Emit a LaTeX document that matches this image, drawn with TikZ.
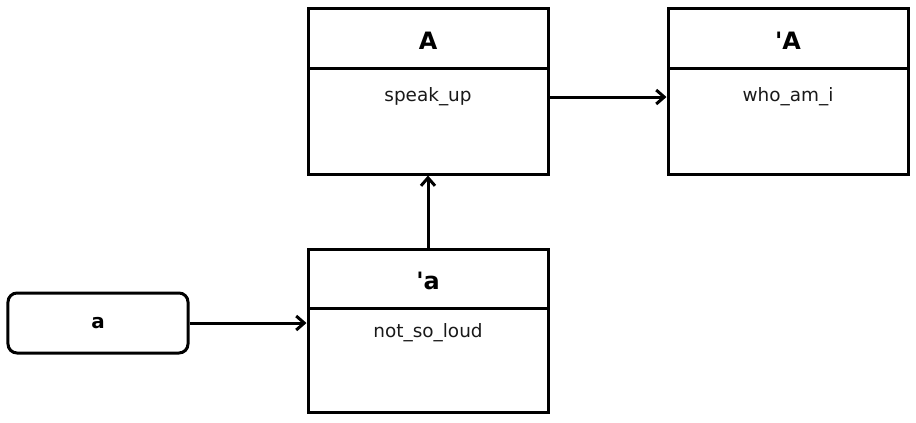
\documentclass[tikz,border=0pt]{standalone}
\usepackage{fontspec}
\setmainfont{DejaVu Sans}[Ligatures=TeXOff]
\usetikzlibrary{arrows.meta}
\begin{document}
\begin{tikzpicture}[x=1bp,y=-1bp,
  cls/.style={draw=black,line width=3bp,minimum width=240bp,inner sep=0pt,fill=white},
  ttl/.style={font=\fontsize{24}{28}\selectfont\bfseries,inner sep=0pt},
  body/.style={font=\fontsize{18.5}{22}\selectfont,inner sep=0pt,text=black!90},
  obj/.style={draw=black,line width=3bp,rounded corners=9bp,minimum width=180bp,minimum height=60bp,inner sep=0pt,font=\fontsize{20}{24}\selectfont\bfseries},
  conn/.style={line width=3bp,-{Straight Barb[length=8bp,width=14bp]}}
]
\useasboundingbox (0,0) rectangle (916,422);
% class A
\node[cls,minimum height=166bp] (A) at (428,91) {};
\draw[line width=3bp] (308,68) -- (548,68);
\node[ttl] (Atitle) at (428,41) {A};
\node[body] (Abody) at (428,97) {speak\_up};
% class 'A
\node[cls,minimum height=166bp] (Ap) at (788,91) {};
\draw[line width=3bp] (668,68) -- (908,68);
\node[ttl] (Aptitle) at (788,41) {'A};
\node[body] (Apbody) at (788,97) {who\_am\_i};
% class 'a
\node[cls,minimum height=163bp] (ap) at (428,330.5) {};
\draw[line width=3bp] (308,308) -- (548,308);
\node[ttl] (aptitle) at (428,281) {'a};
\node[body] (apbody) at (428,333) {not\_so\_loud};
% object a
\node[obj] (a) at (98,323) {a};
% connectors
\draw[conn] (A.east |- Abody) -- (Ap.west |- Abody);
\draw[conn] (ap.north) -- (A.south);
\draw[conn] (a.east) -- (ap.west |- a.east);
\end{tikzpicture}
\end{document}
